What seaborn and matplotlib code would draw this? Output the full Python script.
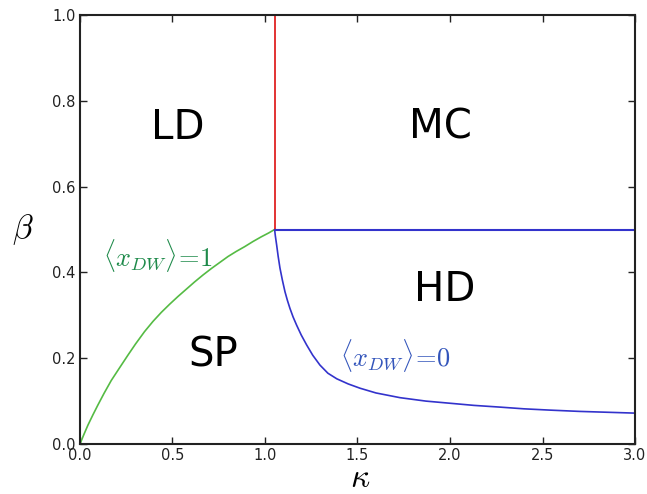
import numpy as np
import pandas as pd
import matplotlib
matplotlib.use("Agg")
import matplotlib.pyplot as plt
import seaborn as sns

# phase boundaries
kappa_c = 1.052
beta_c = 0.5

# green boundary SP / LD
green_k = [0.0, 0.02, 0.043, 0.07, 0.097, 0.13, 0.169, 0.21, 0.259, 0.30, 0.349, 0.395,
           0.440, 0.485, 0.530, 0.575, 0.620, 0.665, 0.710, 0.755, 0.800, 0.845,
           0.890, 0.935, 0.980, 1.02, 1.052]
green_b = [0.0, 0.021, 0.044, 0.068, 0.091, 0.118, 0.148, 0.175, 0.207, 0.233, 0.262, 0.286,
           0.307, 0.326, 0.344, 0.361, 0.378, 0.394, 0.409, 0.423, 0.437, 0.449,
           0.460, 0.472, 0.483, 0.492, 0.5]

# blue boundary SP / HD
blue_k = [1.052, 1.056, 1.063, 1.071, 1.081, 1.094, 1.108, 1.121, 1.135, 1.152, 1.171,
          1.196, 1.225, 1.258, 1.297, 1.34, 1.388, 1.45, 1.514, 1.60, 1.73, 1.87,
          2.0, 2.13, 2.27, 2.4, 2.54, 2.7, 2.85, 3.0]
blue_b = [0.5, 0.485, 0.464, 0.438, 0.410, 0.382, 0.355, 0.335, 0.316, 0.296, 0.277,
          0.254, 0.231, 0.207, 0.184, 0.165, 0.152, 0.140, 0.130, 0.119, 0.108, 0.100,
          0.095, 0.090, 0.086, 0.082, 0.079, 0.076, 0.074, 0.072]

regions = ["LD", "MC", "HD", "SP"]
region_k = [0.53, 1.946, 1.97, 0.72]
region_b = [0.737, 0.737, 0.359, 0.207]

sns.set_style("ticks")
plt.rcParams["font.family"] = ["DejaVu Sans"]
plt.rcParams["mathtext.fontset"] = "cm"
plt.rcParams["xtick.direction"] = "in"
plt.rcParams["ytick.direction"] = "in"
plt.rcParams["xtick.top"] = True
plt.rcParams["ytick.right"] = True

fig = plt.figure(figsize=(6.47, 4.94), dpi=100)
ax = fig.add_axes([0.1236, 0.1012, 0.8579, 0.8684])

green = pd.DataFrame({"k": green_k, "b": green_b})
blue = pd.DataFrame({"k": blue_k, "b": blue_b})
sns.lineplot(data=green, x="k", y="b", color="#55bb44", lw=1.2, ax=ax, sort=False)
sns.lineplot(data=blue, x="k", y="b", color="#3333cc", lw=1.2, ax=ax, sort=False)
ax.plot([kappa_c, kappa_c], [beta_c, 1.0], color="#dd1111", lw=1.2)
ax.plot([kappa_c, 3.0], [beta_c, beta_c], color="#3333cc", lw=1.5)

for name, k, b in zip(regions, region_k, region_b):
    ax.text(k, b, name, fontsize=29, ha="center", va="center", color="black")

ax.text(0.124, 0.44, r"$\langle x_{DW}\rangle\!=\!1$", color="#1e8a4a", fontsize=19,
        ha="left", va="center")
ax.text(1.405, 0.207, r"$\langle x_{DW}\rangle\!=\!0$", color="#3355bb", fontsize=19,
        ha="left", va="center")

ax.set_xlim(0, 3)
ax.set_ylim(0, 1)
ax.set_xticks([0.0, 0.5, 1.0, 1.5, 2.0, 2.5, 3.0])
ax.set_yticks([0.0, 0.2, 0.4, 0.6, 0.8, 1.0])
ax.set_xticklabels(["0.0", "0.5", "1.0", "1.5", "2.0", "2.5", "3.0"])
ax.set_yticklabels(["0.0", "0.2", "0.4", "0.6", "0.8", "1.0"])
ax.tick_params(labelsize=10.5, length=5, width=1, colors="#222222", pad=3)
for s in ax.spines.values():
    s.set_linewidth(1.5)
    s.set_color("#222222")
ax.set_xlabel(r"$\kappa$", fontsize=24, color="black", va="center")
ax.xaxis.set_label_coords(0.505, -0.077)
ax.set_ylabel(r"$\beta$", fontsize=24, rotation=0, color="black", ha="center", va="center")
ax.yaxis.set_label_coords(-0.103, 0.5)

fig.savefig("out.png", dpi=100)
